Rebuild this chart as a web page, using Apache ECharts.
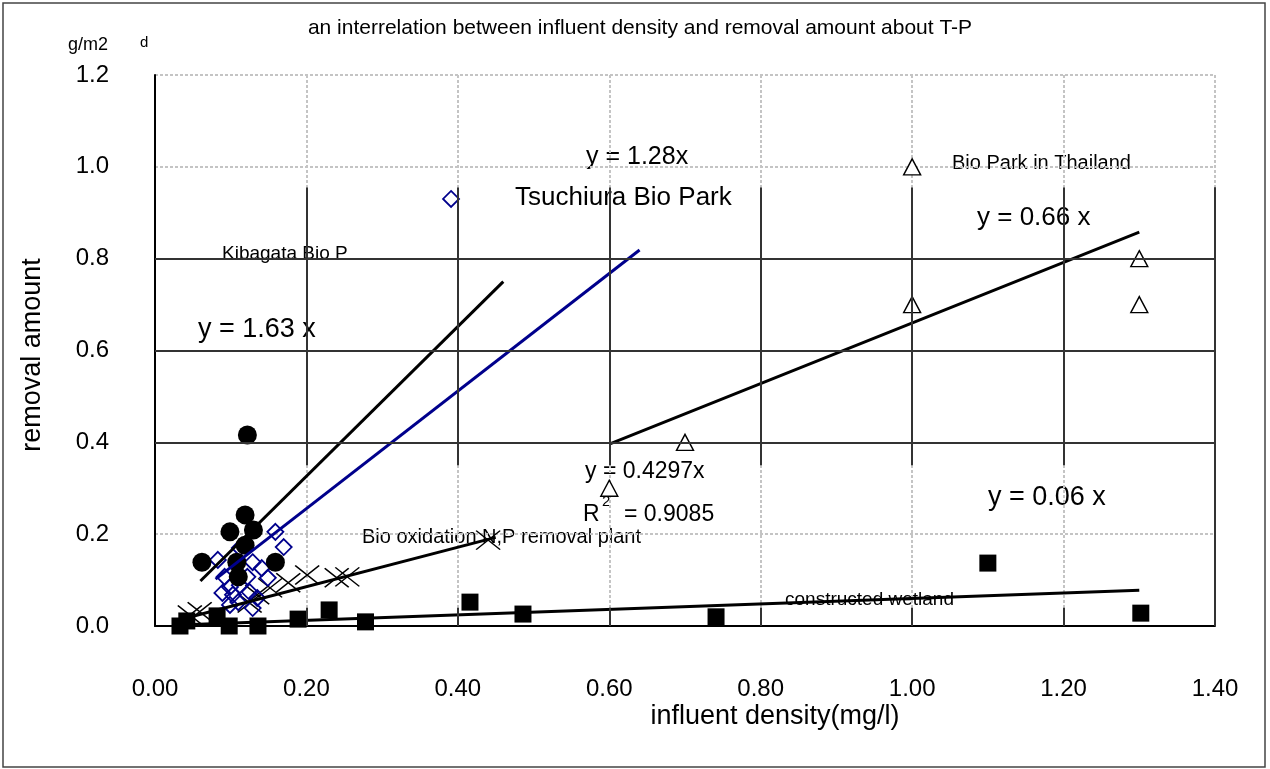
<!DOCTYPE html>
<html>
<head>
<meta charset="utf-8">
<script src="https://cdn.jsdelivr.net/npm/echarts@6/dist/echarts.min.js"></script>
<style>
html,body{margin:0;padding:0;background:#fff;}
#chart{width:1270px;height:769px;}
</style>
</head>
<body>
<div id="chart"></div>
<script>
// ---- data ----
const kibagata = [[0.062,0.139],[0.099,0.205],[0.119,0.242],[0.130,0.209],[0.119,0.176],[0.108,0.139],[0.159,0.139],[0.110,0.107],[0.122,0.416]];
const tsuchiura = [[0.391,0.930],[0.159,0.205],[0.170,0.172],[0.083,0.144],[0.129,0.139],[0.141,0.126],[0.092,0.107],[0.122,0.107],[0.149,0.105],[0.099,0.085],[0.112,0.089],[0.089,0.072],[0.103,0.068],[0.125,0.074],[0.110,0.052],[0.135,0.061],[0.129,0.039],[0.099,0.046],[0.112,0.170]];
const bioOxidation = [[0.046,0.024],[0.059,0.031],[0.125,0.050],[0.135,0.068],[0.152,0.083],[0.176,0.094],[0.201,0.111],[0.240,0.105],[0.254,0.107],[0.440,0.187]];
const thailand = [[1.00,1.00],[1.00,0.70],[1.30,0.80],[1.30,0.70],[0.70,0.40],[0.60,0.30]];
const wetland = [[0.033,0.0],[0.042,0.011],[0.082,0.022],[0.098,0.0],[0.136,0.0],[0.189,0.015],[0.230,0.035],[0.278,0.009],[0.416,0.052],[0.486,0.026],[0.741,0.020],[1.100,0.137],[1.302,0.028]];
// fitted lines (end points)
const kibagataFit = [[0.06,0.098],[0.46,0.750]];
const tsuchiuraFit = [[0.08,0.102],[0.64,0.819]];
const bioOxFit = [[0.04,0.017],[0.45,0.193]];
const thailandFit = [[0.60,0.396],[1.30,0.858]];
const wetlandFit = [[0.03,0.002],[1.30,0.078]];
// axis ticks
const xTicks = [0,0.2,0.4,0.6,0.8,1.0,1.2,1.4];
const yTicks = [0,0.2,0.4,0.6,0.8,1.0,1.2];
const darkRows = [0.4,0.6,0.8];

const FONT = '"Liberation Sans", Arial, sans-serif';
const chart = echarts.init(document.getElementById('chart'));

const darkLines = [];
darkRows.forEach(v => darkLines.push([{coord:[0,v]},{coord:[1.4,v]}]));
xTicks.slice(1).forEach(v => {
  darkLines.push([{coord:[v,0.35]},{coord:[v,0.955]}]);
  darkLines.push([{coord:[v,0]},{coord:[v,0.04]}]);
});
darkLines.push([{coord:[1.4,0]},{coord:[1.4,0.955]}]);

function txt(x, y, s, size) {
  return {type:'text', x:x, y:y, style:{text:s, fill:'#000', font: size + 'px ' + FONT, textVerticalAlign:'middle'}};
}

const option = {
  animation:false,
  backgroundColor:'#fff',
  grid:{left:155, right:55, top:75, bottom:143},
  xAxis:{type:'value', min:0, max:1.4, interval:0.2,
    axisLine:{show:true, onZero:false, lineStyle:{color:'#000', width:2}},
    axisTick:{show:false},
    axisLabel:{margin:51, fontSize:24, fontFamily:FONT, color:'#000', formatter:v=>v.toFixed(2)},
    splitLine:{show:true, lineStyle:{color:'#c4c4c4', width:2, type:[3,2]}}
  },
  yAxis:{type:'value', min:0, max:1.2, interval:0.2,
    axisLine:{show:true, onZero:false, lineStyle:{color:'#000', width:2}},
    axisTick:{show:false},
    axisLabel:{margin:46, fontSize:24, fontFamily:FONT, color:'#000', formatter:v=>v.toFixed(1)},
    splitLine:{show:true, lineStyle:{color:'#c4c4c4', width:2, type:[3,2]}}
  },
  series:[
    {type:'line', data:[], silent:true,
      markLine:{silent:true, symbol:'none', label:{show:false}, lineStyle:{color:'#333', width:2, type:'solid'}, data:darkLines}},
    {name:'wetlandFit', type:'line', data:wetlandFit, symbol:'none', lineStyle:{color:'#000', width:3}},
    {name:'bioOxFit', type:'line', data:bioOxFit, symbol:'none', lineStyle:{color:'#000', width:3}},
    {name:'thailandFit', type:'line', data:thailandFit, symbol:'none', lineStyle:{color:'#000', width:3}},
    {name:'kibagataFit', type:'line', data:kibagataFit, symbol:'none', lineStyle:{color:'#000', width:3}},
    {name:'tsuchiuraFit', type:'line', data:tsuchiuraFit, symbol:'none', lineStyle:{color:'#00008c', width:3}},
    {name:'Bio oxidation', type:'scatter', data:bioOxidation, symbol:'path://M0,0L10,8M10,0L0,8', symbolSize:[24,19],
      itemStyle:{color:'none', borderColor:'#000', borderWidth:1.5, opacity:1}},
    {name:'Tsuchiura', type:'scatter', data:tsuchiura, symbol:'diamond', symbolSize:16,
      itemStyle:{color:'rgba(255,255,255,0)', borderColor:'#00008c', borderWidth:1.8, opacity:1}},
    {name:'Kibagata', type:'scatter', data:kibagata, symbol:'circle', symbolSize:19, itemStyle:{color:'#000', opacity:1}},
    {name:'Thailand', type:'scatter', data:thailand, symbol:'triangle', symbolSize:[17,16],
      itemStyle:{color:'#fff', borderColor:'#000', borderWidth:1.4, opacity:1}},
    {name:'Wetland', type:'scatter', data:wetland, symbol:'rect', symbolSize:17, itemStyle:{color:'#000', opacity:1}}
  ],
  graphic:[
    {type:'rect', shape:{x:3, y:3, width:1262, height:764}, style:{fill:'none', stroke:'#444', lineWidth:1.5}, silent:true, z:-1},
    txt(68, 45, 'g/m2', 18),
    txt(140, 43, 'd', 15),
    {type:'text', x:640, y:28, style:{text:'an interrelation between influent density and removal amount about T-P', fill:'#000', font:'21px '+FONT, textAlign:'center', textVerticalAlign:'middle'}},
    {type:'text', x:33, y:355, rotation:Math.PI/2, style:{text:'removal amount', fill:'#000', font:'27px '+FONT, textAlign:'center', textVerticalAlign:'middle'}},
    {type:'text', x:775, y:717, style:{text:'influent density(mg/l)', fill:'#000', font:'27px '+FONT, textAlign:'center', textVerticalAlign:'middle'}},
    txt(222, 254, 'Kibagata Bio P', 19),
    txt(198, 330, 'y = 1.63 x', 27),
    txt(586, 157, 'y = 1.28x', 25),
    txt(515, 198, 'Tsuchiura Bio Park', 26),
    txt(952, 163, 'Bio Park in Thailand', 20),
    txt(977, 218, 'y = 0.66 x', 26),
    txt(585, 472, 'y = 0.4297x', 23),
    txt(583, 515, 'R', 23),
    txt(602, 502, '2', 15),
    txt(624, 515, '= 0.9085', 23),
    txt(362, 537, 'Bio oxidation N,P removal plant', 20),
    txt(988, 498, 'y = 0.06 x', 27),
    txt(785, 600, 'constructed wetland', 19)
  ]
};
chart.setOption(option);
</script>
</body>
</html>
